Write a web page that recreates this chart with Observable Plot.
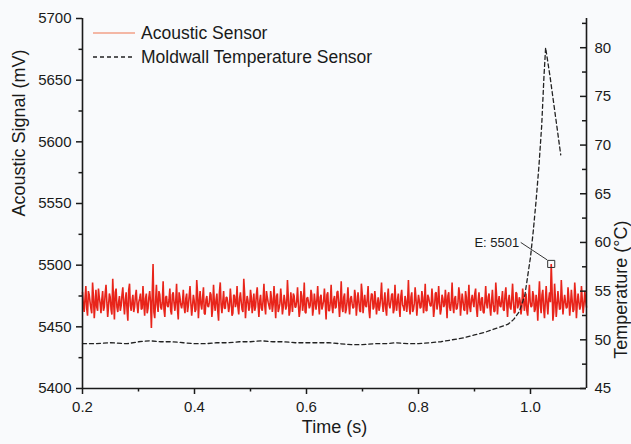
<!DOCTYPE html>
<html><head><meta charset="utf-8">
<script src="https://cdn.jsdelivr.net/npm/d3@7"></script>
<script src="https://cdn.jsdelivr.net/npm/@observablehq/plot@0.6"></script>
<style>
html,body{margin:0;padding:0;background:#f9fafc;}
#wrap{position:relative;width:631px;height:444px;overflow:hidden;font-family:"Liberation Sans",Arial,sans-serif;}
#wrap svg{display:block;}
#legend{position:absolute;left:0;top:0;}
</style></head><body><div id="wrap"></div>
<script>
// ---- data ----
const xDomain = [0.2, 1.1];
const yDomain = [5400, 5700];           // Acoustic Signal (mV)
const tempDomain = [45, 83];            // Temperature (°C), right axis
const xMajorTicks = [0.2, 0.4, 0.6, 0.8, 1.0];
const xMinorTicks = [0.3, 0.5, 0.7, 0.9];
const yMajorTicks = [5400, 5450, 5500, 5550, 5600, 5650, 5700];
const yMinorTicks = [5425, 5475, 5525, 5575, 5625, 5675];
const tempMajorTicks = [45, 50, 55, 60, 65, 70, 75, 80];
const tempMinorTicks = [47.5, 52.5, 57.5, 62.5, 67.5, 72.5, 77.5, 82.5];

const seriesNames = ["Acoustic Sensor", "Moldwall Temperature Sensor"];

// acoustic sensor samples (mV): main samples every acousticStep s from acousticStart,
// plus the in-between samples (half a step later)
const acousticStart = 0.2;
const acousticStep = 0.003;
const acousticValues = [
5478,5462,5483,5459,5476,5465,5486,5457,5480,5463,5474,5461,5479,5466,5484,5458,5477,5464,5489,5456,
5481,5462,5475,5467,5482,5460,5478,5455,5485,5463,5476,5466,5480,5461,5473,5464,5483,5459,5477,5465,
5479,5449,5501,5457,5484,5462,5476,5464,5487,5458,5475,5466,5481,5460,5478,5463,5485,5456,5474,5465,
5480,5461,5477,5467,5483,5459,5476,5462,5488,5457,5479,5464,5482,5460,5475,5466,5478,5458,5484,5463,
5477,5455,5486,5461,5479,5465,5474,5462,5481,5459,5476,5466,5483,5460,5478,5464,5489,5457,5475,5463,
5480,5461,5477,5466,5482,5458,5476,5463,5485,5460,5474,5467,5479,5462,5483,5457,5477,5465,5481,5460,
5476,5464,5488,5459,5478,5462,5475,5466,5482,5458,5479,5463,5486,5461,5474,5465,5480,5459,5477,5464,
5483,5460,5476,5467,5481,5456,5478,5463,5484,5461,5475,5466,5479,5458,5487,5462,5477,5464,5482,5460,
5475,5465,5480,5459,5478,5463,5485,5461,5476,5466,5483,5457,5477,5464,5479,5460,5474,5467,5486,5462,
5478,5459,5481,5465,5476,5461,5484,5463,5477,5458,5480,5466,5475,5462,5488,5460,5478,5464,5482,5459,
5476,5465,5479,5461,5485,5463,5474,5467,5481,5458,5477,5464,5483,5460,5476,5466,5480,5457,5478,5463,
5486,5461,5475,5465,5482,5459,5477,5464,5479,5460,5484,5462,5476,5466,5481,5458,5478,5463,5474,5461,
5483,5465,5477,5459,5480,5462,5486,5460,5475,5466,5479,5463,5482,5458,5476,5464,5485,5461,5478,5465,
5474,5460,5481,5463,5477,5459,5484,5466,5479,5462,5476,5455,5487,5461,5480,5457,5483,5460,5478,5501,
5455,5485,5458,5479,5464,5488,5460,5476,5465,5482,5459,5480,5462,5486,5457,5477,5464,5483,5461,5479,
5466
];
const acousticMidValues = [
5468,5473,5465,5479,5470,5461,5475,5468,5466,5481,5469,5472,5463,5477,5470,5467,5474,5460,5471,5478,
5466,5470,5463,5476,5469,5472,5464,5480,5467,5471,5462,5475,5468,5470,5477,5465,5469,5473,5461,5474,
5470,5476,5462,5471,5468,5479,5466,5470,5464,5474,5467,5472,5463,5476,5469,5471,5465,5478,5468,5470,
5466,5473,5462,5475,5469,5467,5471,5464,5477,5470,5468,5474,5461,5472,5467,5470,5476,5465,5469,5472,
5463,5478,5468,5470,5465,5474,5469,5467,5472,5461,5475,5469,5466,5473,5470,5462,5477,5468,5471,5466,
5474,5469,5463,5476,5468,5471,5465,5472,5467,5479,5470,5464,5473,5468,5470,5475,5462,5469,5472,5466,
5471,5467,5474,5463,5470,5477,5466,5471,5468,5464,5475,5469,5462,5473,5470,5467,5476,5465,5470,5472,
5468,5474,5464,5471,5469,5476,5463,5470,5467,5472,5465,5478,5469,5470,5466,5474,5461,5471,5468,5473,
5469,5466,5475,5468,5471,5462,5477,5469,5467,5473,5464,5470,5476,5466,5471,5468,5463,5474,5469,5470,
5465,5473,5468,5470,5477,5464,5469,5472,5466,5475,5468,5463,5471,5470,5467,5474,5462,5469,5473,5468,
5471,5466,5474,5469,5463,5476,5470,5467,5472,5465,5478,5469,5470,5464,5473,5468,5471,5475,5466,5470,
5467,5473,5464,5470,5476,5468,5471,5463,5474,5469,5466,5472,5470,5477,5465,5471,5468,5473,5462,5470,
5469,5474,5466,5471,5468,5463,5475,5470,5467,5472,5464,5476,5469,5471,5466,5473,5470,5462,5477,5468,
5471,5466,5474,5469,5463,5472,5470,5467,5475,5464,5470,5473,5468,5476,5465,5471,5469,5472,5470,5480,
5462,5473,5468,5471,5465,5474,5469,5470,5466,5473,5468,5471,5464,5475,5469,5470,5467,5472,5468,5471
];

// moldwall temperature (°C)
const tempTime = [0.20,0.22,0.25,0.28,0.30,0.32,0.34,0.36,0.38,0.40,0.42,0.44,0.46,0.48,0.50,0.52,0.54,0.56,0.58,0.60,
  0.62,0.64,0.66,0.68,0.70,0.72,0.74,0.76,0.78,0.80,0.82,0.84,0.86,0.88,0.90,0.92,0.94,0.96,0.97,0.98,0.99,1.00,1.005,1.01,1.015,1.02,1.024,1.027,1.035,1.045,1.054];
const tempValue = [49.6,49.6,49.7,49.6,49.8,49.9,49.8,49.8,49.7,49.6,49.6,49.7,49.7,49.8,49.8,49.9,49.8,49.8,49.7,49.7,
  49.7,49.7,49.6,49.5,49.5,49.6,49.6,49.7,49.6,49.6,49.7,49.8,50.0,50.2,50.5,50.8,51.2,51.6,52.1,52.9,54.6,58.5,61.2,64.3,67.8,72.0,77.0,80.0,77.0,72.8,69.0];

// annotation
const annotTime = 1.037;
const annotValue = 5501;
const annotLabel = "E: 5501";

// ---- styles ----
const red = "#e8241a";
const ink = "#1a1a1a";

// temperature → left-axis mV coordinate
const toMv = d3.scaleLinear().domain(tempDomain).range(yDomain);

const acoustic = [];
acousticValues.forEach((v, i) => {
  const t = acousticStart + i * acousticStep;
  acoustic.push({t, v});
  if (i < acousticMidValues.length) acoustic.push({t: t + acousticStep / 2, v: acousticMidValues[i]});
});
const temps = tempTime.map((t, i) => ({t, temp: tempValue[i]}));
const annot = [{t: annotTime, v: annotValue}];

const leader = (index, scales) => {
  const px = scales.x(annotTime), py = scales.y(annotValue);
  return d3.create("svg:line")
    .attr("x1", px - 30).attr("y1", py - 21)
    .attr("x2", px - 3.5).attr("y2", py - 3.5)
    .attr("stroke", "#333").attr("stroke-width", 1).node();
};

const chart = Plot.plot({
  width: 631, height: 444,
  marginLeft: 82, marginRight: 45, marginTop: 18, marginBottom: 56,
  style: {background: "transparent", fontFamily: "'Liberation Sans', Arial, sans-serif", fontSize: "15px", color: ink, overflow: "visible"},
  x: {domain: xDomain},
  y: {domain: yDomain},
  marks: [
    Plot.lineY(acoustic, {x: "t", y: "v", stroke: red, strokeWidth: 1.6, strokeLinejoin: "miter"}),
    Plot.line(temps, {x: "t", y: d => toMv(d.temp), stroke: "#222", strokeWidth: 1.3, strokeDasharray: "4,3"}),
    Plot.dot(annot, {x: "t", y: "v", symbol: "square", r: 4, stroke: "#333", fill: "none", strokeWidth: 1}),
    Plot.text(annot, {x: "t", y: "v", text: () => annotLabel, dx: -32, dy: -21, textAnchor: "end", fontSize: 13, fill: ink}),
    leader,
    Plot.axisX(xMajorTicks, {tickSize: 6, tickPadding: 7, tickFormat: d3.format(".1f"), label: null, strokeWidth: 1.5, fontSize: 15}),
    Plot.axisX(xMinorTicks, {tickSize: 3.5, tickFormat: () => "", label: null, strokeWidth: 1.5}),
    Plot.axisY(yMajorTicks, {tickSize: 6, tickPadding: 5, tickFormat: d3.format("d"), label: null, strokeWidth: 1.5, fontSize: 15}),
    Plot.axisY(yMinorTicks, {tickSize: 3.5, tickFormat: () => "", label: null, strokeWidth: 1.5}),
    Plot.axisY(tempMajorTicks.map(toMv), {anchor: "right", tickSize: 0, tickPadding: 8, tickFormat: v => d3.format("d")(Math.round(toMv.invert(v))), label: null, fontSize: 15}),
    Plot.ruleY(tempMajorTicks.map(toMv), {x1: xDomain[1], x2: xDomain[1], insetRight: 6, stroke: ink, strokeWidth: 1.5}),
    Plot.ruleY(tempMinorTicks.map(toMv), {x1: xDomain[1], x2: xDomain[1], insetRight: 4, stroke: ink, strokeWidth: 1.5}),
    Plot.ruleX([xDomain[0], xDomain[1]], {stroke: ink, strokeWidth: 1.6}),
    Plot.ruleY([yDomain[0]], {stroke: ink, strokeWidth: 1.6}),
    Plot.text(["Time (s)"], {text: d => d, frameAnchor: "bottom", dy: 44, fontSize: 18, fill: ink}),
    Plot.text(["Acoustic Signal (mV)"], {text: d => d, frameAnchor: "left", rotate: -90, dx: -63.5, dy: 13, fontSize: 18, fill: ink}),
    Plot.text(["Temperature (°C)"], {text: d => d, frameAnchor: "right", rotate: -90, dx: 35, dy: 17, fontSize: 18, fill: ink})
  ]
});

const wrap = document.getElementById("wrap");
wrap.appendChild(chart);

// legend overlay (inside plot, top-left)
const lg = d3.select(wrap).append("svg").attr("id", "legend").attr("width", 631).attr("height", 80);
const legendItems = [
  {name: seriesNames[0], stroke: "#f2a189", dash: null, width: 1.6},
  {name: seriesNames[1], stroke: "#222", dash: "4,3", width: 1.3}
];
legendItems.forEach((d, i) => {
  const y = 33 + i * 24;
  lg.append("line").attr("x1", 93).attr("x2", 135).attr("y1", y).attr("y2", y)
    .attr("stroke", d.stroke).attr("stroke-width", d.width).attr("stroke-dasharray", d.dash);
  lg.append("text").attr("x", 141).attr("y", y).attr("dy", "0.35em")
    .attr("font-size", 17.5).attr("fill", ink)
    .attr("font-family", "'Liberation Sans', Arial, sans-serif").text(d.name);
});
</script></body></html>
